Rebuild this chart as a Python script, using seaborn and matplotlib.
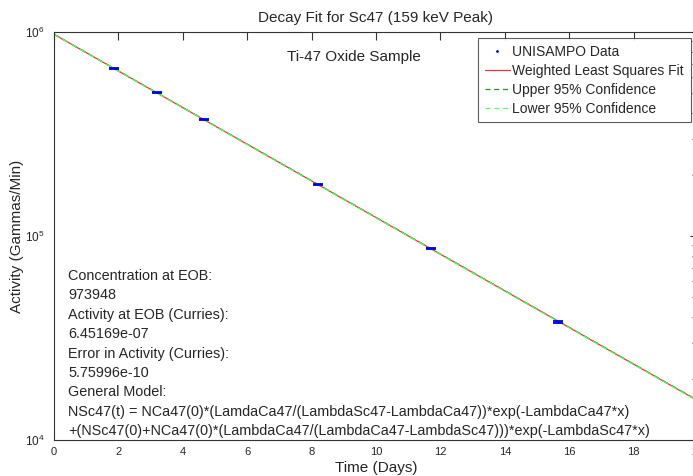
import numpy as np
import pandas as pd
import matplotlib
matplotlib.use("Agg")
import matplotlib.pyplot as plt
from matplotlib.lines import Line2D
from matplotlib.ticker import LogLocator, NullFormatter
import seaborn as sns

# Measured Sc-47 activity (159 keV peak)
data_days = [1.85, 3.2, 4.65, 8.2, 11.7, 15.65]
data_activity = [6.65e5, 5.05e5, 3.72e5, 1.79e5, 8.7e4, 3.8e4]
data_error = [3.0e3, 2.5e3, 2.0e3, 1.2e3, 7.0e2, 4.0e2]

# Weighted least squares fit and 95% confidence bounds (straight on a log axis)
fit_days = [0, 20]
fit_activity = [973948, 15560]
upper_activity = [975000, 15600]
lower_activity = [972900, 15520]

title = "Decay Fit for Sc47 (159 keV Peak)"
sample_label = "Ti-47 Oxide Sample"
x_label = "Time (Days)"
y_label = "Activity (Gammas/Min)"
x_ticks = [0, 2, 4, 6, 8, 10, 12, 14, 16, 18, 20]
legend_labels = ["UNISAMPO Data", "Weighted Least Squares Fit",
                 "Upper 95% Confidence", "Lower 95% Confidence"]
info_lines = [
    "Concentration at EOB:",
    "973948",
    "Activity at EOB (Curries):",
    "6.45169e-07",
    "Error in Activity (Curries):",
    "5.75996e-10",
    "General Model:",
    "NSc47(t) = NCa47(0)*(LamdaCa47/(LambdaSc47-LambdaCa47))*exp(-LambdaCa47*x)",
    "+(NSc47(0)+NCa47(0)*(LambdaCa47/(LambdaCa47-LambdaSc47)))*exp(-LambdaSc47*x)",
]

sns.set_style("white")
plt.rcParams["font.family"] = ["Liberation Sans", "DejaVu Sans"]
plt.rcParams["mathtext.fontset"] = "custom"
plt.rcParams["mathtext.rm"] = "Liberation Sans"

fig = plt.figure(figsize=(6.93, 4.76), dpi=100)
ax = fig.add_axes([54 / 693, 36 / 476, 644 / 693, 408 / 476])

fit_df = pd.DataFrame({"day": fit_days, "fit": fit_activity,
                       "upper": upper_activity, "lower": lower_activity})
data_df = pd.DataFrame({"day": data_days, "activity": data_activity})

red = (0.95, 0.2, 0.2)
dark_green = (0.1, 0.6, 0.1)
light_green = (0.4, 0.95, 0.4)
blue = (0.0, 0.0, 0.85)

sns.lineplot(data=fit_df, x="day", y="fit", ax=ax, color=red, lw=0.9,
             legend=False)
sns.lineplot(data=fit_df, x="day", y="upper", ax=ax, color=dark_green,
             lw=0.9, legend=False)
ax.lines[-1].set_dashes([5, 3])
sns.lineplot(data=fit_df, x="day", y="lower", ax=ax, color=light_green,
             lw=0.9, legend=False)
ax.lines[-1].set_dashes([5, 3])

ax.errorbar(data_days, data_activity, yerr=data_error, fmt="none",
            ecolor=blue, elinewidth=1.0, capsize=3.8,
            capthick=1.3, zorder=4)
sns.scatterplot(data=data_df, x="day", y="activity", ax=ax, marker=".",
                s=4, color=blue, edgecolor="none", zorder=5,
                legend=False)

ax.set_yscale("log")
ax.set_xlim(0, 20)
ax.set_ylim(1e4, 1e6)
ax.set_xticks(x_ticks)
ax.set_xticklabels([str(t) for t in x_ticks], fontsize=8)
ax.yaxis.set_major_locator(LogLocator(base=10, numticks=5))
ax.yaxis.set_minor_locator(LogLocator(base=10, subs=np.arange(2, 10), numticks=20))
ax.yaxis.set_minor_formatter(NullFormatter())
ax.tick_params(axis="y", which="major", labelsize=8.5, pad=7)

ax.tick_params(which="both", direction="in", top=True, right=True,
               color="#333333", width=0.8)
ax.tick_params(which="major", length=6)
ax.tick_params(which="minor", length=4)
ax.tick_params(axis="x", pad=5)
for sp in ax.spines.values():
    sp.set_color("#333333")
    sp.set_linewidth(0.8)

ax.set_xlabel(x_label, fontsize=11, labelpad=3)
ax.set_ylabel(y_label, fontsize=11, labelpad=0.5)
ax.set_title(title, fontsize=11, pad=7)

ax.text(9.3, 7.5e5, sample_label, fontsize=11, ha="center", va="center")

y0 = 1 - (276 - 32) / 408
step = 19.4 / 408
for i, line in enumerate(info_lines):
    ax.text(14 / 644, y0 - i * step, line, transform=ax.transAxes,
            fontsize=10.35, ha="left", va="center")

handles = [
    Line2D([], [], ls="none", marker=".", markersize=2, color=blue),
    Line2D([], [], color=red, lw=0.9),
    Line2D([], [], color=dark_green, lw=0.9, dashes=[4, 3]),
    Line2D([], [], color=light_green, lw=0.9, dashes=[4, 3]),
]
leg = ax.legend(handles, legend_labels, loc="upper left",
                bbox_to_anchor=((478 - 54) / 644, 1 - 6 / 408),
                fontsize=10, frameon=True, fancybox=False, handlelength=1.8,
                handletextpad=0.15, borderpad=0.5, labelspacing=0.35,
                borderaxespad=0)
leg.get_frame().set_edgecolor("#333333")
leg.get_frame().set_linewidth(0.8)

fig.savefig("out.png", dpi=100, facecolor="white")
